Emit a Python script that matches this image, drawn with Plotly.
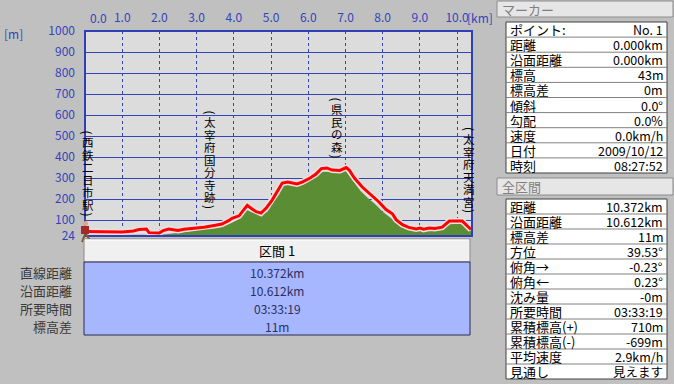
import plotly.graph_objects as go

# ---------------- data ----------------
track_km = [0.0, 0.3, 0.6, 1.0, 1.3, 1.45, 1.65, 1.72, 2.0, 2.1, 2.25, 2.4, 2.5, 2.66, 2.8, 2.93,
            3.07, 3.2, 3.47, 3.68, 3.87, 3.95, 4.14, 4.22, 4.36, 4.49, 4.6, 4.73, 4.87, 5.03, 5.15,
            5.3, 5.45, 5.6, 5.7, 5.85, 6.05, 6.2, 6.35, 6.5, 6.64, 6.85, 7.02, 7.1, 7.24, 7.45,
            7.69, 7.9, 8.09, 8.26, 8.36, 8.53, 8.7, 8.9, 9.0, 9.1, 9.25, 9.4, 9.6, 9.79, 10.14,
            10.3, 10.372]
track_m = [45, 44, 43, 43, 48, 55, 57, 40, 38, 50, 57, 52, 50, 56, 58, 62,
           63, 66, 74, 81, 98, 108, 120, 138, 170, 153, 140, 133, 157, 195, 230,
           276, 281, 275, 272, 282, 300, 318, 345, 348, 338, 336, 350, 338, 300, 257,
           219, 186, 150, 130, 102, 78, 65, 58, 62, 56, 62, 60, 66, 95, 95,
           70, 55]

terrain_km = [0.0, 1.0, 2.0, 2.3, 2.6, 3.0, 3.4, 3.7, 3.9, 4.1, 4.35, 4.5, 4.7, 4.9, 5.05, 5.3,
              5.5, 5.7, 6.0, 6.2, 6.4, 6.6, 6.85, 7.0, 7.15, 7.4, 7.6, 7.8, 8.0, 8.2, 8.4, 8.6,
              8.8, 9.0, 9.3, 9.6, 9.8, 10.1, 10.3, 10.372]
terrain_m = [30, 30, 30, 35, 42, 50, 58, 68, 85, 105, 148, 135, 120, 140, 180, 262,
             270, 260, 280, 310, 330, 330, 328, 335, 300, 240, 205, 175, 140, 112, 85, 62,
             50, 48, 50, 55, 80, 82, 60, 45]

x_tick_vals = [0, 1, 2, 3, 4, 5, 6, 7, 8, 9, 10]
x_tick_text = ["0.0", "1.0", "2.0", "3.0", "4.0", "5.0", "6.0", "7.0", "8.0", "9.0", "10.0"]
y_tick_vals = [24, 100, 200, 300, 400, 500, 600, 700, 800, 900, 1000]
y_tick_text = ["24", "100", "200", "300", "400", "500", "600", "700", "800", "900", "1000"]

place_names = ["西鉄二日市駅", "太宰府国分寺跡", "県民の森", "太宰府天満宮"]
place_km = [0.08, 3.36, 6.77, 10.33]

section_title = "区間 1"
section_labels = ["直線距離", "沿面距離", "所要時間", "標高差"]
section_values = ["10.372km", "10.612km", "03:33:19", "11m"]

marker_title = "マーカー"
marker_labels = ["ポイント:", "距離", "沿面距離", "標高", "標高差", "傾斜", "勾配", "速度", "日付", "時刻"]
marker_values = ["No. 1", "0.000km", "0.000km", "43m", "0m", "0.0°", "0.0%", "0.0km/h", "2009/10/12", "08:27:52"]

total_title = "全区間"
total_labels = ["距離", "沿面距離", "標高差", "方位", "俯角→", "俯角←", "沈み量", "所要時間",
                "累積標高(+)", "累積標高(-)", "平均速度", "見通し"]
total_values = ["10.372km", "10.612km", "11m", "39.53°", "-0.23°", "0.23°", "-0m", "03:33:19",
                "710m", "-699m", "2.9km/h", "見えます"]

# ---------------- layout helpers ----------------
W, H = 674, 384
FONT = "Noto Sans CJK JP"
BLUE = "#3344bb"


def px(x):
    return x / W


def py(y):
    return 1 - y / H


PL, PR, PT, PB = 85, 472, 31, 236

fig = go.Figure()

fig.add_trace(go.Scatter(x=terrain_km, y=terrain_m, mode="lines", fill="tozeroy",
                         line=dict(width=0, color="#5b8e34"), fillcolor="#5b8e34",
                         hoverinfo="skip", showlegend=False))
fig.add_trace(go.Scatter(x=track_km, y=track_m, mode="lines",
                         line=dict(width=6, color="#eee0e0"), hoverinfo="skip", showlegend=False))
fig.add_trace(go.Scatter(x=track_km, y=track_m, mode="lines",
                         line=dict(width=3, color="#ff0000"), hoverinfo="skip", showlegend=False))

shapes = []
ann = []

# plot border
shapes.append(dict(type="rect", xref="paper", yref="paper", x0=px(PL), x1=px(PR), y0=py(PB), y1=py(PT),
                   line=dict(color="#2f3fb5", width=2), layer="above"))

# x tick label 0.0 (drawn from the left edge)
ann.append(dict(xref="paper", yref="paper", x=px(PL + 3), y=py(17), text=x_tick_text[0],
                xanchor="left", yanchor="middle", showarrow=False, font=dict(family=FONT, size=12, color=BLUE)))
ann.append(dict(xref="paper", yref="paper", x=px(465), y=py(17), text="[km]",
                xanchor="left", yanchor="middle", showarrow=False, font=dict(family=FONT, size=12, color=BLUE)))
ann.append(dict(xref="paper", yref="paper", x=px(2), y=py(33), text="[m]",
                xanchor="left", yanchor="middle", showarrow=False, font=dict(family=FONT, size=12, color=BLUE)))

# vertical place labels (upright characters in one block, rotated parentheses)
place_top = [130, 110, 97, 127]
CH = 12.5      # pixel pitch of one character
PAREN = 6      # pixel height of a rotated parenthesis
for name, km, top in zip(place_names, place_km, place_top):
    n = len(name)
    ann.append(dict(xref="x", yref="paper", x=km, y=py(top + PAREN / 2 - 0.5), text="(", showarrow=False,
                    xanchor="center", yanchor="middle", textangle=90,
                    font=dict(family=FONT, size=12, color="#000000")))
    block = "<br>".join(f"<span style='font-size:11.5px'>{c}</span>" for c in name)
    ann.append(dict(xref="x", yref="paper", x=km, y=py(top + PAREN + n * CH / 2), text=block,
                    showarrow=False, xanchor="center", yanchor="middle", align="center",
                    font=dict(family=FONT, size=CH / 1.3, color="#000000")))
    ann.append(dict(xref="x", yref="paper", x=km, y=py(top + PAREN + n * CH + PAREN / 2 + 0.5), text=")",
                    showarrow=False, xanchor="center", yanchor="middle", textangle=90,
                    font=dict(family=FONT, size=12, color="#000000")))

# hiker icon
shapes.append(dict(type="line", xref="paper", yref="paper", x0=px(85), y0=py(234), x1=px(82), y1=py(242),
                   line=dict(color="#7a5a3a", width=2), layer="above"))
shapes.append(dict(type="line", xref="paper", yref="paper", x0=px(86), y0=py(234), x1=px(91), y1=py(242),
                   line=dict(color="#7a5a3a", width=2), layer="above"))
shapes.append(dict(type="rect", xref="paper", yref="paper", x0=px(81), x1=px(89), y0=py(234), y1=py(226),
                   fillcolor="#a52a2a", line=dict(width=0), layer="above"))
shapes.append(dict(type="circle", xref="paper", yref="paper", x0=px(83), x1=px(88), y0=py(226), y1=py(221),
                   fillcolor="#e0a880", line=dict(width=0), layer="above"))

# section panel
shapes.append(dict(type="rect", xref="paper", yref="paper", x0=px(84), x1=px(470), y0=py(262), y1=py(239),
                   fillcolor="#f0f0f0", line=dict(color="#8a8a8a", width=1)))
shapes.append(dict(type="line", xref="paper", yref="paper", x0=px(85), x1=px(469), y0=py(240), y1=py(240),
                   line=dict(color="#ffffff", width=1)))
ann.append(dict(xref="paper", yref="paper", x=px(277), y=py(250), text=section_title, showarrow=False,
                xanchor="center", yanchor="middle", font=dict(family=FONT, size=13, color="#000000")))
shapes.append(dict(type="rect", xref="paper", yref="paper", x0=px(84), x1=px(470), y0=py(335), y1=py(262),
                   fillcolor="#a6b6ff", line=dict(color="#2a2a50", width=1)))
sec_y = [272, 290, 308, 326]
for lab, val, yy in zip(section_labels, section_values, sec_y):
    ann.append(dict(xref="paper", yref="paper", x=px(74), y=py(yy), text=lab, showarrow=False,
                    xanchor="right", yanchor="middle", font=dict(family=FONT, size=13, color="#3a3a3a")))
    ann.append(dict(xref="paper", yref="paper", x=px(277), y=py(yy), text=val, showarrow=False,
                    xanchor="center", yanchor="middle", font=dict(family=FONT, size=12, color="#2a3060")))


def header(top, bottom, title):
    shapes.append(dict(type="rect", xref="paper", yref="paper", x0=px(497), x1=px(673), y0=py(bottom), y1=py(top),
                       fillcolor="#e6e6e6", line=dict(color="#8c8c8c", width=1)))
    ann.append(dict(xref="paper", yref="paper", x=px(500), y=py((top + bottom) / 2), text=title, showarrow=False,
                    xanchor="left", yanchor="middle", font=dict(family=FONT, size=13, color="#808080")))


def table(top, row_h, labels, values):
    n = len(labels)
    bottom = top + n * row_h
    shapes.append(dict(type="rect", xref="paper", yref="paper", x0=px(506), x1=px(667), y0=py(bottom), y1=py(top),
                       fillcolor="#ffffff", line=dict(color="#404040", width=1)))
    for i in range(1, n):
        yy = top + i * row_h
        shapes.append(dict(type="line", xref="paper", yref="paper", x0=px(506), x1=px(667), y0=py(yy), y1=py(yy),
                           line=dict(color="#808080", width=1)))
    for i, (lab, val) in enumerate(zip(labels, values)):
        yy = top + (i + 0.5) * row_h
        ann.append(dict(xref="paper", yref="paper", x=px(508), y=py(yy), text=lab, showarrow=False,
                        xanchor="left", yanchor="middle", font=dict(family=FONT, size=13, color="#000000")))
        ann.append(dict(xref="paper", yref="paper", x=px(665), y=py(yy), text=val, showarrow=False,
                        xanchor="right", yanchor="middle", font=dict(family=FONT, size=12.5, color="#000000")))


header(1, 17, marker_title)
table(22, 15.1, marker_labels, marker_values)
header(178, 195, total_title)
table(199, 15.0, total_labels, total_values)

fig.update_layout(
    width=W, height=H, autosize=False,
    margin=dict(l=0, r=0, t=0, b=0, pad=0, autoexpand=False),
    paper_bgcolor="#c0c0c0", plot_bgcolor="#dcdcdc",
    showlegend=False, hovermode=False,
    xaxis=dict(domain=[px(PL), px(PR)], range=[0, 10.4], side="top", automargin=False,
               tickvals=x_tick_vals, ticktext=[""] + x_tick_text[1:],
               showgrid=True, gridcolor=BLUE, griddash="dot", gridwidth=1,
               zeroline=False, showline=False, ticks="", ticklabelstandoff=6,
               tickfont=dict(family=FONT, size=12, color=BLUE), fixedrange=True),
    yaxis=dict(domain=[py(PB), py(PT)], range=[24, 1000], automargin=False,
               tickvals=y_tick_vals, ticktext=y_tick_text,
               showgrid=True, gridcolor=BLUE, gridwidth=1,
               zeroline=False, showline=False, ticks="", ticklabelstandoff=9,
               tickfont=dict(family=FONT, size=12, color=BLUE), fixedrange=True),
    shapes=shapes, annotations=ann,
)

fig.write_html("out.html", config={"displayModeBar": False},
               post_script="document.body.style.margin='0px';document.body.style.overflow='hidden';"
                           "document.documentElement.style.overflow='hidden';")
